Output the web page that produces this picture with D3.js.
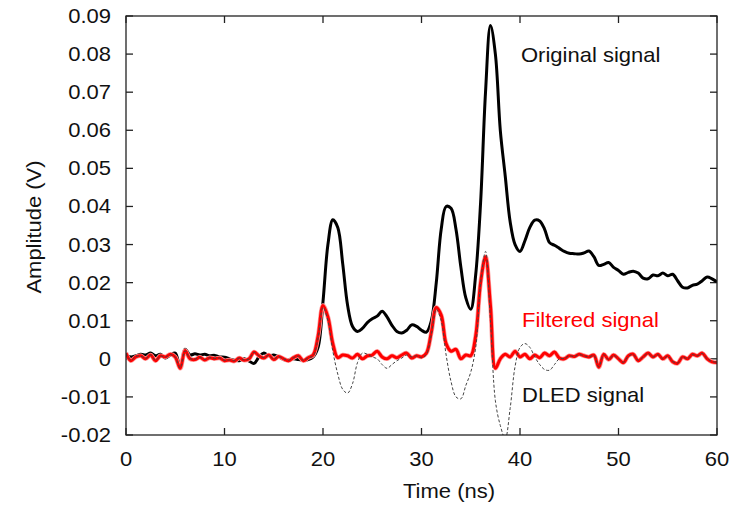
<!DOCTYPE html>
<html>
<head>
<meta charset="utf-8">
<script src="https://cdn.jsdelivr.net/npm/d3@7"></script>
<style>
  body { margin: 0; background: #fff; }
  text { font-family: "Liberation Sans", Arial, sans-serif; }
</style>
</head>
<body>
<div id="chart"></div>
<script>
// sample times (ns), one every 0.5 ns
const timeNs = [
  0, 0.5, 1, 1.5, 2, 2.5, 3, 3.5, 4, 4.5, 5, 5.5, 6, 6.5, 7, 7.5, 8, 8.5, 9, 9.5,
  10, 10.5, 11, 11.5, 12, 12.5, 13, 13.5, 14, 14.5, 15, 15.5, 16, 16.5, 17, 17.5, 18, 18.5, 19, 19.5,
  20, 20.5, 21, 21.5, 22, 22.5, 23, 23.5, 24, 24.5, 25, 25.5, 26, 26.5, 27, 27.5, 28, 28.5, 29, 29.5,
  30, 30.5, 31, 31.5, 32, 32.5, 33, 33.5, 34, 34.5, 35, 35.5, 36, 36.5, 37, 37.5, 38, 38.5, 39, 39.5,
  40, 40.5, 41, 41.5, 42, 42.5, 43, 43.5, 44, 44.5, 45, 45.5, 46, 46.5, 47, 47.5, 48, 48.5, 49, 49.5,
  50, 50.5, 51, 51.5, 52, 52.5, 53, 53.5, 54, 54.5, 55, 55.5, 56, 56.5, 57, 57.5, 58, 58.5, 59, 59.5, 60,
];

const originalSignal = [
  0.0010, 0.0005, 0.0008, 0.0012, 0.0010, 0.0015, 0.0008, 0.0012, 0.0002, 0.0010,
  0.0015, -0.0020, 0.0025, 0.0010, 0.0013, 0.0010, 0.0012, 0.0008, 0.0009, 0.0005,
  0.0004, 0.0000, -0.0004, -0.0005, 0.0000, -0.0006, -0.0012, 0.0005, 0.0015, 0.0008,
  0.0010, 0.0005, -0.0002, -0.0003, 0.0000, -0.0002, -0.0004, -0.0002, 0.0005, 0.0030,
  0.0150, 0.0300, 0.0365, 0.0345, 0.0250, 0.0140, 0.0085, 0.0072, 0.0080, 0.0095,
  0.0105, 0.0112, 0.0125, 0.0110, 0.0088, 0.0072, 0.0068, 0.0075, 0.0089, 0.0085,
  0.0075, 0.0070, 0.0100, 0.0200, 0.0340, 0.0400, 0.0395, 0.0340, 0.0240, 0.0160,
  0.0130, 0.0220, 0.0410, 0.0700, 0.0875, 0.0800, 0.0600, 0.0480, 0.0360, 0.0300,
  0.0282, 0.0310, 0.0345, 0.0364, 0.0362, 0.0340, 0.0305, 0.0298, 0.0290, 0.0282,
  0.0277, 0.0276, 0.0275, 0.0278, 0.0283, 0.0268, 0.0245, 0.0248, 0.0253, 0.0240,
  0.0232, 0.0222, 0.0227, 0.0230, 0.0225, 0.0212, 0.0210, 0.0220, 0.0218, 0.0225,
  0.0218, 0.0222, 0.0205, 0.0188, 0.0186, 0.0193, 0.0196, 0.0205, 0.0215, 0.0210, 0.0202,
];

const filteredSignal = [
  0.0015, -0.0005, 0.0005, 0.0008, 0.0000, 0.0010, -0.0005, 0.0008, 0.0005, 0.0012,
  0.0005, -0.0025, 0.0022, 0.0000, -0.0002, 0.0004, -0.0003, 0.0003, 0.0000, 0.0002,
  -0.0005, -0.0003, -0.0006, 0.0002, -0.0004, 0.0000, 0.0018, 0.0008, 0.0002, 0.0010,
  -0.0002, 0.0006, 0.0000, -0.0005, 0.0003, 0.0008, -0.0005, 0.0003, 0.0010, 0.0060,
  0.0140, 0.0110, 0.0040, 0.0003, 0.0010, 0.0008, 0.0002, 0.0012, 0.0000, 0.0008,
  0.0010, 0.0020, 0.0005, 0.0000, 0.0008, 0.0003, 0.0010, 0.0015, 0.0002, 0.0008,
  0.0005, 0.0015, 0.0070, 0.0135, 0.0115, 0.0040, 0.0020, 0.0025, 0.0000, 0.0010,
  0.0008, 0.0060, 0.0200, 0.0268, 0.0140, -0.0025, 0.0000, 0.0012, 0.0005, 0.0020,
  0.0005, 0.0012, 0.0000, 0.0010, 0.0003, 0.0015, 0.0008, 0.0018, 0.0002, 0.0000,
  0.0008, 0.0006, 0.0012, 0.0008, 0.0005, 0.0010, -0.0022, 0.0012, -0.0002, 0.0010,
  0.0000, -0.0010, 0.0008, 0.0012, -0.0005, 0.0005, 0.0015, 0.0005, 0.0012, 0.0000,
  0.0008, -0.0008, -0.0012, 0.0005, 0.0000, 0.0012, 0.0008, 0.0015, 0.0000, -0.0008, -0.0010,
];

const dledSignal = [
  0.0014, -0.0004, 0.0006, 0.0007, 0.0001, 0.0010, -0.0004, 0.0007, 0.0005, 0.0011,
  0.0004, -0.0024, 0.0021, 0.0001, -0.0001, 0.0004, -0.0002, 0.0003, 0.0001, 0.0002,
  -0.0004, -0.0003, -0.0005, 0.0002, -0.0003, 0.0000, 0.0017, 0.0008, 0.0003, 0.0009,
  -0.0001, 0.0006, 0.0000, -0.0004, 0.0003, 0.0007, -0.0004, 0.0003, 0.0008, 0.0055,
  0.0135, 0.0100, 0.0020, -0.0040, -0.0080, -0.0090, -0.0065, -0.0010, 0.0015, 0.0012,
  0.0005, 0.0000, -0.0015, -0.0025, -0.0015, -0.0005, 0.0002, 0.0010, 0.0005, 0.0008,
  0.0003, 0.0012, 0.0065, 0.0130, 0.0100, 0.0010, -0.0060, -0.0100, -0.0105, -0.0070,
  -0.0035, 0.0030, 0.0200, 0.0282, 0.0100, -0.0110, -0.0175, -0.0210, -0.0130, -0.0020,
  0.0030, 0.0040, 0.0030, 0.0005, -0.0015, -0.0028, -0.0030, -0.0015, 0.0000, 0.0001,
  0.0008, 0.0006, 0.0011, 0.0008, 0.0005, 0.0009, -0.0021, 0.0011, -0.0002, 0.0009,
  0.0000, -0.0009, 0.0007, 0.0011, -0.0004, 0.0005, 0.0014, 0.0005, 0.0011, 0.0000,
  0.0007, -0.0007, -0.0011, 0.0005, 0.0000, 0.0011, 0.0008, 0.0014, 0.0000, -0.0007, -0.0009,
];

const xTicks = [0, 10, 20, 30, 40, 50, 60];
const yTicks = [-0.02, -0.01, 0, 0.01, 0.02, 0.03, 0.04, 0.05, 0.06, 0.07, 0.08, 0.09];

const width = 737;
const height = 505;
const margin = { top: 16, right: 20, bottom: 70, left: 126 };
const stretch = 1.1; // the labels in the source look a bit wider than plain Arial

const svg = d3.select('#chart').append('svg')
  .attr('width', width)
  .attr('height', height);

const x = d3.scaleLinear().domain([0, 60]).range([margin.left, width - margin.right]);
const y = d3.scaleLinear().domain([-0.02, 0.09]).range([height - margin.bottom, margin.top]);

const putText = (sel, str, px, py, anchor, size, color, rotate) => {
  sel.append('text')
    .attr('transform', `translate(${px},${py})${rotate ? ` rotate(${rotate})` : ''} scale(${stretch},1)`)
    .attr('text-anchor', anchor)
    .style('font-size', `${size}px`)
    .style('fill', color || '#111')
    .text(str);
};

svg.append('clipPath').attr('id', 'plotClip')
  .append('rect')
  .attr('x', x(0)).attr('y', y(0.09))
  .attr('width', x(60) - x(0)).attr('height', y(-0.02) - y(0.09));

const tickLen = 7;
const axisG = svg.append('g').attr('class', 'axes');

// ticks on all four sides, pointing inward
xTicks.forEach((t) => {
  axisG.append('line').attr('x1', x(t)).attr('x2', x(t))
    .attr('y1', y(-0.02)).attr('y2', y(-0.02) - tickLen);
  axisG.append('line').attr('x1', x(t)).attr('x2', x(t))
    .attr('y1', y(0.09)).attr('y2', y(0.09) + tickLen);
  putText(svg, d3.format('d')(t), x(t), 466, 'middle', 20);
});
yTicks.forEach((v) => {
  axisG.append('line').attr('x1', x(0)).attr('x2', x(0) + tickLen)
    .attr('y1', y(v)).attr('y2', y(v));
  axisG.append('line').attr('x1', x(60)).attr('x2', x(60) - tickLen)
    .attr('y1', y(v)).attr('y2', y(v));
  const lbl = v === 0 ? '0' : d3.format('.2f')(v).replace('\u2212', '-');
  putText(svg, lbl, 111, y(v) + 7, 'end', 20);
});
axisG.selectAll('line').style('stroke', '#222').style('stroke-width', 1.3);

const line = (vals) => d3.line()
  .x((d, i) => x(timeNs[i]))
  .y((d) => y(d))
  .curve(d3.curveCatmullRom.alpha(0.5))(vals);

const plotG = svg.append('g').attr('clip-path', 'url(#plotClip)');

plotG.append('path')
  .attr('d', line(originalSignal))
  .style('fill', 'none').style('stroke', '#000').style('stroke-width', 3)
  .style('stroke-linejoin', 'round');

plotG.append('path')
  .attr('d', line(filteredSignal))
  .style('fill', 'none').style('stroke', '#ff9a9a').style('stroke-width', 4.5)
  .style('stroke-linejoin', 'round');
plotG.append('path')
  .attr('d', line(filteredSignal))
  .style('fill', 'none').style('stroke', '#ff0000').style('stroke-width', 3)
  .style('stroke-linejoin', 'round');

plotG.append('path')
  .attr('d', line(dledSignal))
  .style('fill', 'none').style('stroke', '#444').style('stroke-width', 1)
  .style('stroke-dasharray', '3,2');

svg.append('rect')
  .attr('x', x(0)).attr('y', y(0.09))
  .attr('width', x(60) - x(0)).attr('height', y(-0.02) - y(0.09))
  .style('fill', 'none').style('stroke', '#222').style('stroke-width', 1.3);

// axis titles
putText(svg, 'Time (ns)', 449, 498, 'middle', 20);
putText(svg, 'Amplitude (V)', 41, 227, 'middle', 20, '#111', -90);

// series labels
putText(svg, 'Original signal', 521, 62, 'start', 20);
putText(svg, 'Filtered signal', 522, 327, 'start', 20, '#ff0000');
putText(svg, 'DLED signal', 522, 402, 'start', 20);
</script>
</body>
</html>
